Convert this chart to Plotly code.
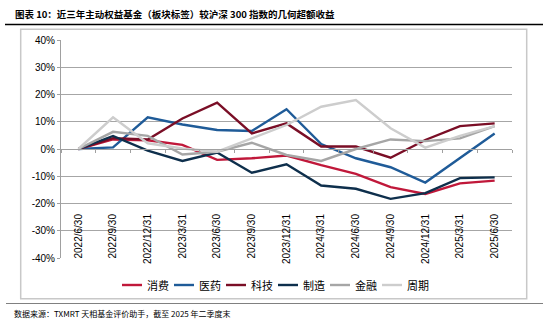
import plotly.graph_objects as go

dates = ["2022/6/30", "2022/9/30", "2022/12/31", "2023/3/31", "2023/6/30", "2023/9/30",
         "2023/12/31", "2024/3/31", "2024/6/30", "2024/9/30", "2024/12/31", "2025/3/31", "2025/6/30"]

consumer = [0, 3.5, 3.2, 1.5, -4.0, -3.4, -2.4, -5.9, -9.1, -14.0, -16.5, -12.6, -11.6]
medicine = [0, 0.6, 11.6, 9.0, 7.0, 6.6, 14.6, 1.8, -3.4, -6.7, -12.3, -3.4, 5.7]
tech = [0, 4.0, 3.5, 11.2, 17.0, 5.7, 9.4, 0.9, 0.9, -3.2, 3.3, 8.4, 9.4]
manufacturing = [0, 4.8, -0.6, -4.4, -1.3, -8.7, -5.6, -13.4, -14.6, -18.3, -16.2, -10.7, -10.4]
finance = [0, 6.3, 4.8, -2.0, -1.0, 2.3, -2.2, -4.4, 0.0, 3.5, 2.9, 3.9, 8.4]
cyclical = [0, 11.6, 2.1, 0.2, -1.0, 3.9, 8.8, 15.5, 18.0, 7.6, 0.5, 4.8, 8.4]

series = [
    ("消费", consumer, "#C0183A"),
    ("医药", medicine, "#1F5B98"),
    ("科技", tech, "#7A0E26"),
    ("制造", manufacturing, "#0E2F4C"),
    ("金融", finance, "#A6A6A6"),
    ("周期", cyclical, "#CDCDCD"),
]

y_ticks = [-40, -30, -20, -10, 0, 10, 20, 30, 40]
y_labels = [f"{v}%" for v in y_ticks]

W, H = 550, 324
L, R, T, B = 61, 512, 40, 258  # plot area in pixels


def px(x):
    return (x - L) / (R - L)


def py(y):
    return (B - y) / (B - T)


x_idx = list(range(len(dates)))
fig = go.Figure()
for name, vals, col in series:
    fig.add_trace(go.Scatter(x=x_idx, y=vals, name=name, mode="lines", showlegend=False,
                             line=dict(color=col, width=2.4)))

fig.update_layout(
    width=W, height=H,
    margin=dict(l=L, r=W - R, t=T, b=H - B),
    paper_bgcolor="white", plot_bgcolor="white",
    showlegend=False,
    font=dict(family="Liberation Sans, Arial", size=10, color="#000000"),
)

fig.update_xaxes(
    range=[-0.5, len(dates) - 0.5],
    tickmode="array", tickvals=x_idx, ticktext=dates,
    tickangle=-90, ticks="", showgrid=False, zeroline=False,
    showline=True, linecolor="#A0A0A0", linewidth=1,
    anchor="free", position=0.5,
    ticklabelstandoff=60,
    tickfont=dict(family="Liberation Sans, Arial", size=10, color="#000000"),
    minor=dict(tickmode="array", tickvals=[i - 0.5 for i in range(len(dates) + 1)],
               ticks="outside", ticklen=3, tickcolor="#A0A0A0", showgrid=False),
    fixedrange=True,
)
fig.update_yaxes(
    range=[-40, 40], tickmode="array", tickvals=y_ticks, ticktext=y_labels,
    showgrid=True, gridcolor="#A6A6A6", gridwidth=1, zeroline=False,
    showline=True, linecolor="#A0A0A0", linewidth=1,
    ticks="outside", ticklen=3, tickcolor="#A0A0A0",
    tickfont=dict(family="Liberation Sans, Arial", size=10, color="#000000"),
    fixedrange=True,
)

shapes = [
    dict(type="rect", xref="paper", yref="paper", x0=px(20.7), x1=px(526.7), y0=py(298.7), y1=py(29.3),
         line=dict(color="#C8C8C8", width=1.5), layer="below"),
    dict(type="line", xref="paper", yref="paper", x0=px(5), x1=px(543), y0=py(24.5), y1=py(24.5),
         line=dict(color="#000000", width=1.5)),
    dict(type="line", xref="paper", yref="paper", x0=px(6), x1=px(543), y0=py(303.5), y1=py(303.5),
         line=dict(color="#808080", width=1)),
]

# custom compact legend
leg_y = 285
for k, (name, vals, col) in enumerate(series):
    x0 = 122 + 52 * k
    shapes.append(dict(type="line", xref="paper", yref="paper", x0=px(x0), x1=px(x0 + 20),
                       y0=py(leg_y), y1=py(leg_y), line=dict(color=col, width=2.4)))
    fig.add_annotation(xref="paper", yref="paper", x=px(x0 + 23), y=py(leg_y), xanchor="left",
                       yanchor="middle", text=name, showarrow=False,
                       font=dict(family="Noto Sans CJK SC", size=11, color="#000000"))

fig.update_layout(shapes=shapes)

fig.add_annotation(xref="paper", yref="paper", x=px(13), y=py(14), xanchor="left", yanchor="middle",
                   text="<b>图表 10：近三年主动权益基金（板块标签）较沪深 300 指数的几何超额收益</b>",
                   showarrow=False, font=dict(family="Noto Sans CJK SC", size=9.5, color="#000000"))
fig.add_annotation(xref="paper", yref="paper", x=px(12), y=py(313), xanchor="left", yanchor="middle",
                   text="数据来源：TXMRT 天相基金评价助手，截至 2025 年二季度末",
                   showarrow=False, font=dict(family="Noto Sans CJK SC", size=8, color="#000000"))

fig.write_html("out.html")
